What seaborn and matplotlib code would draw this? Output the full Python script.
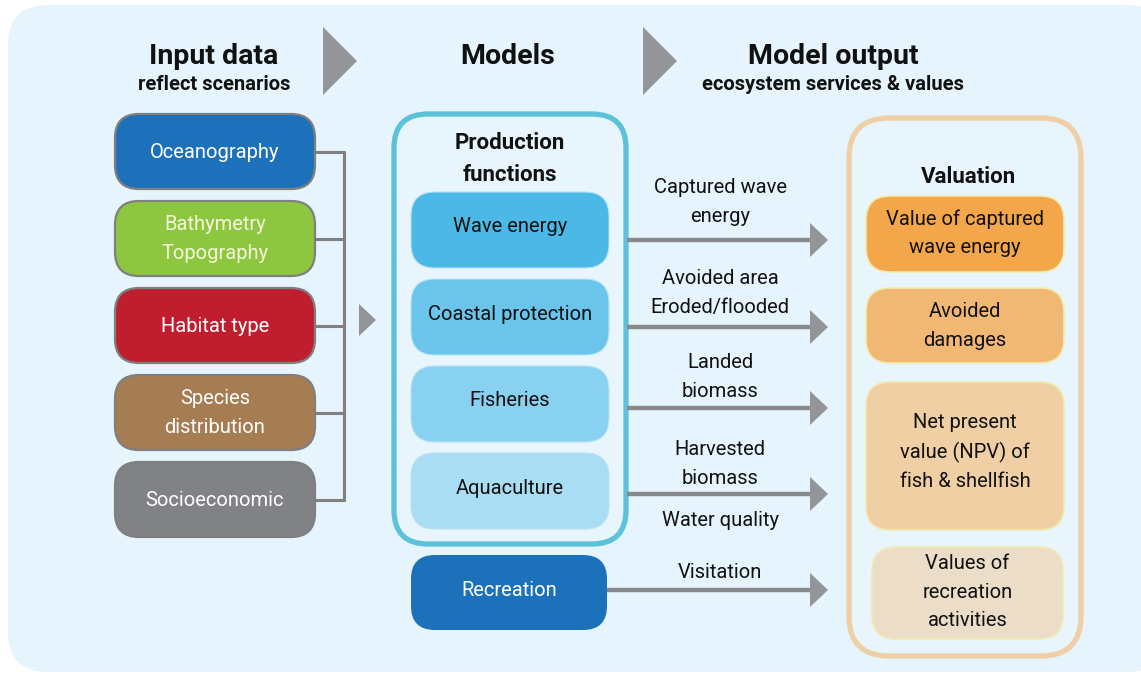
import numpy as np
import matplotlib.pyplot as plt
import seaborn as sns
from matplotlib.patches import FancyBboxPatch, Polygon
from matplotlib import font_manager

# ---- 数据：框内文字与颜色 ----
header_titles = ["Input data", "Models", "Model output"]
header_subtitles = ["reflect scenarios", "", "ecosystem services & values"]

input_labels = ["Oceanography", "Bathymetry\nTopography", "Habitat type",
                "Species\ndistribution", "Socioeconomic"]
input_colors = ["#1C71BA", "#8DC63F", "#BE1E2D", "#A67C52", "#808285"]

model_labels = ["Wave energy", "Coastal protection", "Fisheries", "Aquaculture"]
model_colors = ["#4BB8E5", "#6BC4EA", "#89D1F0", "#A9DDF3"]

flow_labels = ["Captured wave\nenergy", "Avoided area\nEroded/flooded",
               "Landed\nbiomass", "Harvested\nbiomass", "Visitation"]
extra_flow_label = "Water quality"

value_labels = ["Value of captured\nwave energy", "Avoided\ndamages",
                "Net present\nvalue (NPV) of\nfish & shellfish",
                "Values of\nrecreation\nactivities"]
value_colors = ["#F3A74A", "#F1B874", "#EFCFA3", "#EBDDC7"]

sns.set_theme(style="white")
names = {f.name for f in font_manager.fontManager.ttflist}
main_font = "Liberation Sans Narrow" if "Liberation Sans Narrow" in names else "Roboto"
plt.rcParams["font.family"] = [main_font, "DejaVu Sans"]
plt.rcParams["text.color"] = "#111111"

fig = plt.figure(figsize=(11.41, 6.75), dpi=100)
ax = fig.add_axes([0, 0, 1, 1])
ax.set_xlim(0, 1141)
ax.set_ylim(675, 0)
ax.axis("off")

GRAY = "#939598"
LINE = "#88898B"
LS = 1.62  # 行距


def rbox(x, y, w, h, r, fc, ec="none", lw=0, z=2):
    p = FancyBboxPatch((x, y), w, h, boxstyle=f"round,pad=0,rounding_size={r}",
                       fc=fc, ec=ec, lw=lw, zorder=z)
    ax.add_patch(p)


def arrow(x0, x1, y):
    ax.plot([x0, x1 - 16], [y, y], color=LINE, lw=3.2, solid_capstyle="butt", zorder=3)
    ax.add_patch(Polygon([(x1 - 18, y - 17), (x1, y), (x1 - 18, y + 17)],
                         closed=True, fc=GRAY, ec="none", zorder=3))


# 背景
rbox(8, 5, 1160, 667, 40, "#E6F4FD", z=0)

# 标题
for x, t, s in zip([214, 508, 833], header_titles, header_subtitles):
    ax.text(x, 56, t, ha="center", va="center", fontsize=20.5, fontweight="bold")
    if s:
        ax.text(x, 85, s, ha="center", va="center", fontsize=14.5, fontweight="bold")
for x in [323, 643]:
    ax.add_patch(Polygon([(x, 27), (x + 34, 61), (x, 95)], closed=True,
                         fc=GRAY, ec="none", zorder=3))

# 输入数据
in_y = [114, 201, 288, 375, 462]
for y, lab, c in zip(in_y, input_labels, input_colors):
    rbox(115, y, 200, 75, 24, c, ec="#7F7F7F", lw=1.6, z=2)
    tc = "#F4F7D9" if c == "#8DC63F" else "white"
    ax.text(215, y + 38, lab, ha="center", va="center", fontsize=14.5,
            color=tc, linespacing=LS, zorder=4)
    ax.plot([315, 344], [y + 38, y + 38], color="#808080", lw=2.2, zorder=1)
ax.plot([344, 344], [in_y[0] + 38, in_y[-1] + 38], color="#808080", lw=2.2, zorder=1)
ax.add_patch(Polygon([(359, 304), (376, 320), (359, 336)], closed=True,
                     fc=GRAY, ec="none", zorder=3))

# 模型
rbox(394, 114, 232, 430, 34, "#E8F5FD", ec="#5BC2D9", lw=3.8, z=1)
ax.text(510, 159, "Production\nfunctions", ha="center", va="center", fontsize=16,
        fontweight="bold", linespacing=LS)
m_y = [192, 279, 366, 453]
for y, lab, c in zip(m_y, model_labels, model_colors):
    rbox(411, y, 198, 76, 24, c, ec="#B6E2F5", lw=0.8, z=2)
    ax.text(510, y + 35, lab, ha="center", va="center", fontsize=14.5, zorder=4)
rbox(411, 555, 196, 75, 24, "#1C71BA", z=2)
ax.text(509, 591, "Recreation", ha="center", va="center", fontsize=14.5,
        color="white", zorder=4)

# 箭头与流向说明
arrow_y = [240, 327, 408, 494, 590]
arrow_x0 = [627, 627, 627, 627, 607]
label_y = [202, 293, 377, 464, 573]
for y, x0 in zip(arrow_y, arrow_x0):
    arrow(x0, 828, y)
for y, lab in zip(label_y, flow_labels):
    ax.text(720, y, lab, ha="center", va="center", fontsize=14.5, linespacing=LS)
ax.text(720, 521, extra_flow_label, ha="center", va="center", fontsize=14.5)

# 估值
rbox(849, 118, 232, 538, 40, "#E8F5FD", ec="#EFCFA5", lw=3.8, z=1)
ax.text(968, 177, "Valuation", ha="center", va="center", fontsize=16, fontweight="bold")
v_box = [(866, 196, 198, 76), (866, 288, 198, 75), (866, 382, 198, 148), (872, 547, 191, 92)]
v_text_y = [233, 326, 452, 592]
for (x, y, w, h), ty, lab, c in zip(v_box, v_text_y, value_labels, value_colors):
    rbox(x, y, w, h, 24, c, ec="#F1EBB0", lw=1.2, z=2)
    ax.text(x + w / 2, ty, lab, ha="center", va="center", fontsize=14.5,
            linespacing=LS, zorder=4)

fig.savefig("out.png", dpi=100)
